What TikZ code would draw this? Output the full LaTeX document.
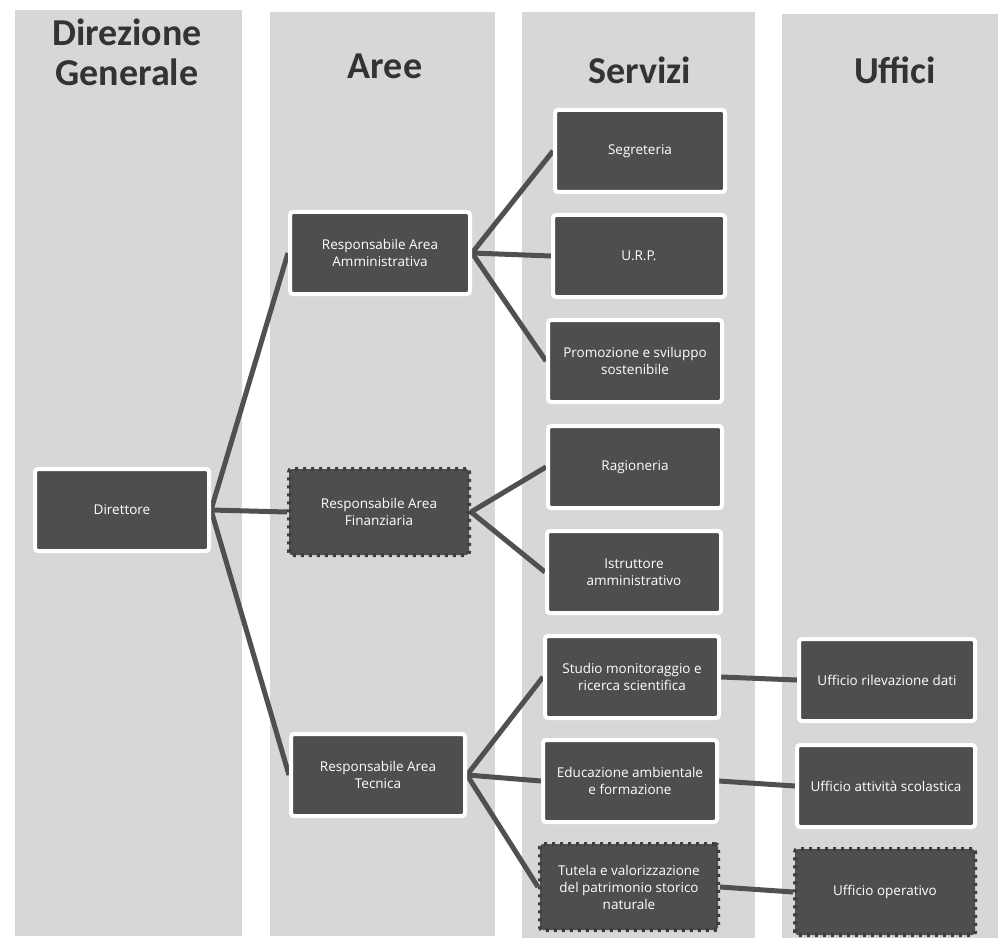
\documentclass[tikz,border=0pt]{standalone}
\usepackage{fontspec}
\setmainfont{Carlito}
\newfontfamily\boxfont{Open Sans}
\usetikzlibrary{backgrounds}
\definecolor{colgray}{HTML}{D7D7D7}
\definecolor{boxgray}{HTML}{4E4E4E}
\definecolor{linegray}{HTML}{505050}
\definecolor{headgray}{HTML}{333333}
\pgfdeclarelayer{cols}
\pgfdeclarelayer{conn}
\pgfsetlayers{cols,conn,main}
\tikzset{
  colbg/.style={fill=colgray, draw=none},
  header/.style={text=headgray, font=\bfseries\fontsize{38}{40}\selectfont, align=center},
  orgbox/.style={rectangle, rounded corners=3pt, fill=boxgray, draw=white, line width=4pt,
    minimum width=174pt, minimum height=82pt, text=white, align=center,
    font=\boxfont\fontsize{13.5}{17}\selectfont, inner sep=1pt},
  roughbox/.style={orgbox, draw=boxgray!80!black, dash pattern=on 3pt off 5pt},
  conn/.style={draw=linegray, line width=5pt}
}
\begin{document}
\begin{tikzpicture}[x=1pt,y=-1pt]
\useasboundingbox (0,0) rectangle (998,941);
\begin{pgfonlayer}{cols}
  \fill[white] (0,0) rectangle (998,941);
  \path[colbg] (15,10) rectangle (242,936);
  \path[colbg] (270,12) rectangle (495,936);
  \path[colbg] (522,12) rectangle (755,938);
  \path[colbg] (782,14) rectangle (998,938);
\end{pgfonlayer}
% headers
\node[header] (h1) at (127,52) {Direzione\\Generale};
\node[header] (h2) at (385,66) {Aree};
\node[header] (h3) at (640,70) {Servizi};
\node[header] (h4) at (895,70) {Uffici};
% boxes
\node[orgbox] (dir) at (122,510) {Direttore};
\node[orgbox, minimum width=180pt] (amm) at (380,253) {Responsabile Area\\Amministrativa};
\node[roughbox, minimum width=180pt, minimum height=86pt] (fin) at (379,512) {Responsabile Area\\Finanziaria};
\node[orgbox] (tec) at (378,775) {Responsabile Area\\Tecnica};
\node[orgbox, minimum width=170pt] (seg) at (640,151) {Segreteria};
\node[orgbox, minimum width=172pt] (urp) at (639,256) {U.R.P.};
\node[orgbox] (pro) at (635,361) {Promozione e sviluppo\\sostenibile};
\node[orgbox] (rag) at (635,467) {Ragioneria};
\node[orgbox] (ist) at (634,572) {Istruttore\\amministrativo};
\node[orgbox] (stu) at (632,677) {Studio monitoraggio e\\ricerca scientifica};
\node[orgbox] (edu) at (630,781) {Educazione ambientale\\e formazione};
\node[roughbox, minimum width=178pt, minimum height=86pt] (tut) at (629,887) {Tutela e valorizzazione\\del patrimonio storico\\naturale};
\node[orgbox, minimum width=176pt] (ur) at (887,680) {Ufficio rilevazione dati};
\node[orgbox, minimum width=178pt] (us) at (886,786) {Ufficio attività scolastica};
\node[roughbox, minimum width=180pt, minimum height=86pt] (uo) at (885,892) {Ufficio operativo};
% connectors
\begin{pgfonlayer}{conn}
  \draw[conn] (dir.east) -- (amm.west);
  \draw[conn] (dir.east) -- (fin.west);
  \draw[conn] (dir.east) -- (tec.west);
  \draw[conn] (amm.east) -- (seg.west);
  \draw[conn] (amm.east) -- (urp.west);
  \draw[conn] (amm.east) -- (pro.west);
  \draw[conn] (fin.east) -- (rag.west);
  \draw[conn] (fin.east) -- (ist.west);
  \draw[conn] (tec.east) -- (stu.west);
  \draw[conn] (tec.east) -- (edu.west);
  \draw[conn] (tec.east) -- (tut.west);
  \draw[conn] (stu.east) -- (ur.west);
  \draw[conn] (edu.east) -- (us.west);
  \draw[conn] (tut.east) -- (uo.west);
\end{pgfonlayer}
\end{tikzpicture}
\end{document}
